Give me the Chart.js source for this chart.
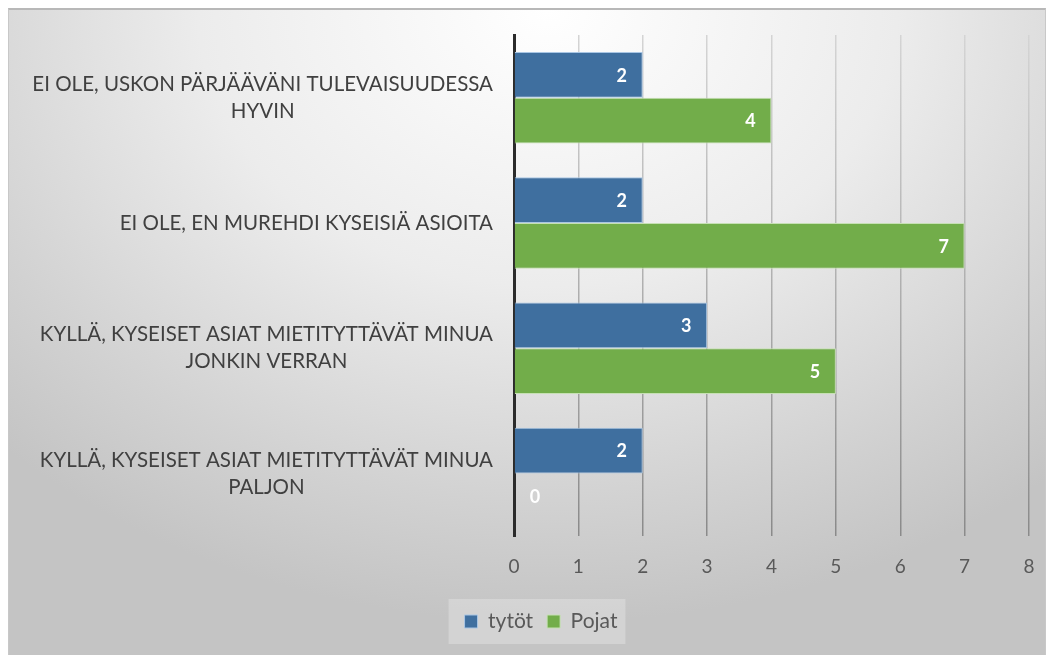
<!DOCTYPE html>
<html>
<head>
<meta charset="utf-8">
<script src="https://cdn.jsdelivr.net/npm/chart.js@4/dist/chart.umd.min.js"></script>
<style>
  html, body { margin: 0; padding: 0; background: #ffffff; }
  #wrap {
    position: absolute; left: 8px; top: 8px; width: 1038px; height: 647px;
    border-top: 2px solid #b8b8b8; border-left: 1px solid #c8c8c8; border-right: 1px solid #c8c8c8;
    box-sizing: border-box;
    background: radial-gradient(ellipse 75% 95% at 52% 0%, #ffffff 0%, #ececec 45%, #d2d2d2 80%, #c4c4c4 100%);
  }
  canvas { display: block; }
</style>
</head>
<body>
<div id="wrap"><canvas id="myChart" width="1036" height="645"></canvas></div>
<script>
"use strict";

const categories = [
  ["EI OLE, USKON PÄRJÄÄVÄNI TULEVAISUUDESSA", "HYVIN"],
  ["EI OLE, EN MUREHDI KYSEISIÄ ASIOITA"],
  ["KYLLÄ, KYSEISET ASIAT MIETITYTTÄVÄT MINUA", "JONKIN VERRAN"],
  ["KYLLÄ, KYSEISET ASIAT MIETITYTTÄVÄT MINUA", "PALJON"]
];
const tytot = [2, 2, 3, 2];
const pojat = [4, 7, 5, 0];
const xTicks = [0, 1, 2, 3, 4, 5, 6, 7, 8];

const fontFamily = "Lato, 'Open Sans', sans-serif";

// values inside the bar ends, white bold
const barValueLabels = {
  id: "barValueLabels",
  afterDatasetsDraw(chart) {
    const ctx = chart.ctx;
    ctx.save();
    ctx.font = "bold 18px " + fontFamily;
    ctx.fillStyle = "#ffffff";
    ctx.textAlign = "center";
    ctx.textBaseline = "middle";
    chart.data.datasets.forEach((ds, di) => {
      chart.getDatasetMeta(di).data.forEach((bar, i) => {
        const v = ds.data[i];
        const x = v > 0 ? bar.x - 21 : bar.base + 21;
        ctx.fillText(String(v), x, bar.y + 1);
      });
    });
    ctx.restore();
  }
};

// category labels: block right-aligned to the axis, lines centered in block
const categoryLabels = {
  id: "categoryLabels",
  afterDraw(chart) {
    const ctx = chart.ctx;
    const y = chart.scales.y;
    ctx.save();
    ctx.font = "20.5px " + fontFamily;
    ctx.fillStyle = "#404040";
    ctx.textAlign = "center";
    ctx.textBaseline = "middle";
    categories.forEach((lines, i) => {
      const cy = y.getPixelForValue(i);
      const maxW = Math.max(...lines.map((l) => ctx.measureText(l).width));
      const cx = y.right - 21 - maxW / 2;
      const lh = 27;
      const top = cy - ((lines.length - 1) * lh) / 2;
      lines.forEach((l, k) => ctx.fillText(l, cx, top + k * lh));
    });
    ctx.restore();
  }
};

// faint lighter box behind the legend
const legendBox = {
  id: "legendBox",
  beforeDraw(chart) {
    const boxes = chart.legend && chart.legend.legendHitBoxes;
    if (!boxes || !boxes.length) return;
    const left = Math.min(...boxes.map((b) => b.left)) - 16;
    const right = Math.max(...boxes.map((b) => b.left + b.width)) + 8;
    const top = boxes[0].top - 12;
    const ctx = chart.ctx;
    ctx.save();
    ctx.fillStyle = "rgba(255,255,255,0.25)";
    ctx.fillRect(left, top, right - left, boxes[0].height + 24);
    ctx.restore();
  }
};

// grid lines go from light at the top to darker at the bottom
const gridColor = (c) => {
  const area = c.chart.chartArea;
  if (!area) return "#a8a8a8";
  const g = c.chart.ctx.createLinearGradient(0, area.top, 0, area.bottom);
  g.addColorStop(0, "#d4d4d4");
  g.addColorStop(1, "#8a8a8a");
  return g;
};

const config = {
  type: "bar",
  data: {
    labels: categories,
    datasets: [
      {
        label: "tytöt",
        data: tytot,
        backgroundColor: "#3f6f9f",
        borderColor: "#a9c6e4",
        borderWidth: 1,
        borderSkipped: "left"
      },
      {
        label: "Pojat",
        data: pojat,
        backgroundColor: "#72ad4a",
        borderColor: "#c6e0b4",
        borderWidth: 1,
        borderSkipped: "left"
      }
    ]
  },
  options: {
    indexAxis: "y",
    responsive: false,
    animation: false,
    layout: { padding: { top: 25, right: 16, left: 44, bottom: 13 } },
    datasets: { bar: { categoryPercentage: 0.73, barPercentage: 1 } },
    scales: {
      x: {
        min: 0,
        max: 8,
        afterBuildTicks: (axis) => { axis.ticks = xTicks.map((v) => ({ value: v })); },
        afterFit: (axis) => { axis.paddingLeft = 0; axis.paddingRight = 0; },
        grid: { color: gridColor, lineWidth: 1.5, drawTicks: false },
        border: { display: false },
        ticks: {
          padding: 19,
          color: "#595959",
          font: { size: 19, family: fontFamily }
        }
      },
      y: {
        afterFit: (axis) => { axis.width = 461; },
        grid: { display: false, drawTicks: false },
        border: { display: true, color: "#2b2b2b", width: 3 },
        ticks: { display: false }
      }
    },
    plugins: {
      legend: {
        position: "bottom",
        labels: {
          boxWidth: 13,
          boxHeight: 13,
          padding: 14,
          color: "#595959",
          font: { size: 21, family: fontFamily }
        }
      },
      tooltip: { enabled: false }
    }
  },
  plugins: [legendBox, barValueLabels, categoryLabels]
};

new Chart(document.getElementById("myChart"), config);
</script>
</body>
</html>
